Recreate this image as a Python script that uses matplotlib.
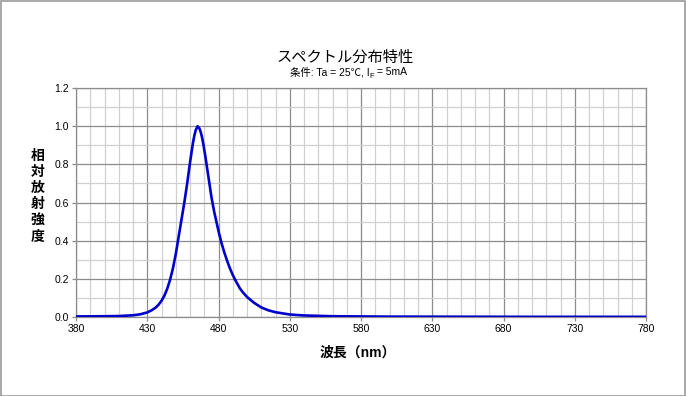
import numpy as np
import matplotlib.pyplot as plt
from matplotlib.patches import Rectangle
from matplotlib.ticker import MultipleLocator

plt.rcParams['font.family'] = ['Liberation Sans', 'Noto Sans CJK JP', 'DejaVu Sans']

# Spectrum (wavelength nm, relative intensity)
wavelength = [380, 400, 410, 420, 425, 430, 433, 436, 438, 440, 442, 444, 446, 448,
              450, 452, 454, 456, 458, 460, 462, 463, 464, 465.3, 466.5, 467.5, 468.5,
              469.5, 471, 473, 475, 477, 478.5, 480, 482, 484, 486, 488, 490, 492,
              495, 497, 500, 505, 510, 515, 520, 530, 540, 560, 600, 700, 780]
intensity = [0.003, 0.004, 0.005, 0.009, 0.014, 0.024, 0.035, 0.05, 0.065, 0.085,
             0.112, 0.148, 0.195, 0.255, 0.33, 0.42, 0.51, 0.6, 0.7, 0.81, 0.91,
             0.95, 0.98, 1.0, 0.99, 0.97, 0.94, 0.9, 0.83, 0.73, 0.63, 0.55, 0.5,
             0.45, 0.39, 0.34, 0.295, 0.255, 0.22, 0.19, 0.15, 0.13, 0.105, 0.074,
             0.05, 0.035, 0.025, 0.013, 0.008, 0.004, 0.002, 0.001, 0.001]

x_ticks = [380, 430, 480, 530, 580, 630, 680, 730, 780]
y_ticks = [0.0, 0.2, 0.4, 0.6, 0.8, 1.0, 1.2]

fig = plt.figure(figsize=(6.86, 3.96), dpi=100)
ax = fig.add_axes([0.1108, 0.1995, 0.831, 0.578])

ax.plot(wavelength, intensity, color='#0000cc', linewidth=1.9, zorder=3,
        solid_joinstyle='round')

ax.set_xlim(380, 780)
ax.set_ylim(0, 1.2)
ax.set_xticks(x_ticks)
ax.set_yticks(y_ticks)
ax.set_yticklabels([f"{v:.1f}" for v in y_ticks])
ax.xaxis.set_minor_locator(MultipleLocator(10))
ax.yaxis.set_minor_locator(MultipleLocator(0.1))

# Grid: dark major lines, light minor lines
ax.grid(True, which='major', color='#8c8c8c', linewidth=0.9)
ax.grid(True, which='minor', color='#d0d0d0', linewidth=0.9)
ax.set_axisbelow(True)

for side in ['left', 'bottom', 'top', 'right']:
    ax.spines[side].set_color('#8c8c8c')
    ax.spines[side].set_linewidth(0.9)

ax.tick_params(which='major', direction='out', length=3, width=0.9, color='#8c8c8c',
               labelsize=7.5, pad=2)
ax.tick_params(which='minor', length=0)

# Title
fig.text(0.503, 0.853, 'スペクトル分布特性', ha='center', va='center', fontsize=11)

# Subtitle built from pieces so the CJK glyphs and the subscript both render
t1 = fig.text(0.423, 0.818, '条件: Ta = 25℃, I', ha='left', va='center', fontsize=7.5)
t2 = ax.annotate('F', xy=(1, 0.12), xycoords=t1, ha='left', va='center', fontsize=5.5,
                 annotation_clip=False)
ax.annotate(' = 5mA', xy=(1, 0.5), xycoords=(t2, t1), ha='left', va='center',
            fontsize=7.5, annotation_clip=False)

# Axis labels
fig.text(0.055, 0.505, '\n'.join('相対放射強度'), ha='center', va='center',
         fontsize=10, fontweight='bold', linespacing=1.2)
fig.text(0.522, 0.11, '波長（nm）', ha='center', va='center', fontsize=10,
         fontweight='bold')

# Gray frame around the picture
fig.patches.append(Rectangle((0.001, 0.001), 0.997, 0.996, transform=fig.transFigure,
                             fill=False, edgecolor='#999999', linewidth=1.2))

plt.savefig('out.png', dpi=100)
